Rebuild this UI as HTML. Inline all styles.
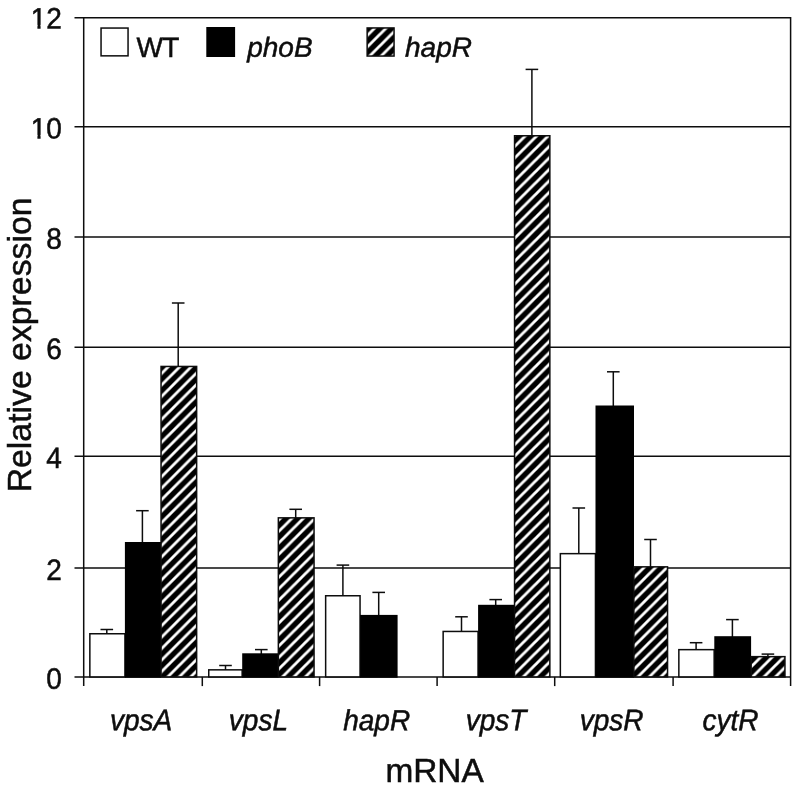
<!DOCTYPE html>
<html lang="en"><head><meta charset="utf-8"><title>Relative expression</title>
<style>html,body{margin:0;padding:0;background:#fff}body{width:800px;height:791px;overflow:hidden}svg{display:block}text{font-family:"Liberation Sans",sans-serif;fill:#0d0d0d}</style></head><body>
<svg width="800" height="791" viewBox="0 0 800 791">
<defs><pattern id="h" x="7.70" y="0" width="11.465" height="11.465" patternUnits="userSpaceOnUse"><rect width="11.465" height="11.465" fill="#000"/><path d="M-2.87 2.87L2.87 -2.87M-2.87 14.33L14.33 -2.87M8.60 14.33L14.33 8.60" stroke="#fff" stroke-width="2.8"/></pattern><pattern id="hL" x="1.50" y="0" width="11.465" height="11.465" patternUnits="userSpaceOnUse"><rect width="11.465" height="11.465" fill="#000"/><path d="M-2.87 2.87L2.87 -2.87M-2.87 14.33L14.33 -2.87M8.60 14.33L14.33 8.60" stroke="#fff" stroke-width="2.8"/></pattern></defs>
<rect width="800" height="791" fill="#fff"/>
<line x1="74.5" y1="17.8" x2="790.6" y2="17.8" stroke="#0d0d0d" stroke-width="1.5"/>
<line x1="74.5" y1="126.7" x2="790.6" y2="126.7" stroke="#0d0d0d" stroke-width="1.5"/>
<line x1="74.5" y1="236.9" x2="790.6" y2="236.9" stroke="#0d0d0d" stroke-width="1.5"/>
<line x1="74.5" y1="347.3" x2="790.6" y2="347.3" stroke="#0d0d0d" stroke-width="1.5"/>
<line x1="74.5" y1="456.2" x2="790.6" y2="456.2" stroke="#0d0d0d" stroke-width="1.5"/>
<line x1="74.5" y1="568.1" x2="790.6" y2="568.1" stroke="#0d0d0d" stroke-width="1.5"/>
<line x1="74.5" y1="676.9" x2="790.6" y2="676.9" stroke="#0d0d0d" stroke-width="1.5"/>
<line x1="83.7" y1="16.9" x2="83.7" y2="686.1" stroke="#0d0d0d" stroke-width="1.5"/>
<line x1="790.6" y1="16.9" x2="790.6" y2="686.1" stroke="#0d0d0d" stroke-width="1.5"/>
<line x1="202.3" y1="676.9" x2="202.3" y2="686.1" stroke="#0d0d0d" stroke-width="1.5"/>
<line x1="319.6" y1="676.9" x2="319.6" y2="686.1" stroke="#0d0d0d" stroke-width="1.5"/>
<line x1="437.1" y1="676.9" x2="437.1" y2="686.1" stroke="#0d0d0d" stroke-width="1.5"/>
<line x1="554.7" y1="676.9" x2="554.7" y2="686.1" stroke="#0d0d0d" stroke-width="1.5"/>
<line x1="673.1" y1="676.9" x2="673.1" y2="686.1" stroke="#0d0d0d" stroke-width="1.5"/>
<line x1="106.8" y1="629.5" x2="106.8" y2="633.9" stroke="#0d0d0d" stroke-width="1.5"/>
<line x1="100.5" y1="629.5" x2="113.1" y2="629.5" stroke="#0d0d0d" stroke-width="1.5"/>
<rect x="89.85" y="633.75" width="35.10" height="43.15" fill="#fff" stroke="#0d0d0d" stroke-width="1.5"/>
<line x1="142.4" y1="510.7" x2="142.4" y2="543.0" stroke="#0d0d0d" stroke-width="1.5"/>
<line x1="136.1" y1="510.7" x2="148.7" y2="510.7" stroke="#0d0d0d" stroke-width="1.5"/>
<rect x="125.75" y="542.85" width="34.40" height="134.05" fill="#000" stroke="#000" stroke-width="1.7"/>
<line x1="178.2" y1="303.0" x2="178.2" y2="366.6" stroke="#0d0d0d" stroke-width="1.5"/>
<line x1="171.9" y1="303.0" x2="184.5" y2="303.0" stroke="#0d0d0d" stroke-width="1.5"/>
<rect x="161.05" y="366.45" width="35.60" height="310.45" fill="url(#h)" stroke="#0d0d0d" stroke-width="1.5"/>
<line x1="225.5" y1="665.5" x2="225.5" y2="670.0" stroke="#0d0d0d" stroke-width="1.5"/>
<line x1="219.2" y1="665.5" x2="231.8" y2="665.5" stroke="#0d0d0d" stroke-width="1.5"/>
<rect x="208.75" y="669.85" width="33.40" height="7.05" fill="#fff" stroke="#0d0d0d" stroke-width="1.5"/>
<line x1="261.3" y1="649.6" x2="261.3" y2="654.3" stroke="#0d0d0d" stroke-width="1.5"/>
<line x1="255.0" y1="649.6" x2="267.6" y2="649.6" stroke="#0d0d0d" stroke-width="1.5"/>
<rect x="243.05" y="654.15" width="34.70" height="22.75" fill="#000" stroke="#000" stroke-width="1.7"/>
<line x1="295.7" y1="509.3" x2="295.7" y2="518.0" stroke="#0d0d0d" stroke-width="1.5"/>
<line x1="289.4" y1="509.3" x2="302.0" y2="509.3" stroke="#0d0d0d" stroke-width="1.5"/>
<rect x="278.35" y="517.85" width="35.70" height="159.05" fill="url(#h)" stroke="#0d0d0d" stroke-width="1.5"/>
<line x1="342.9" y1="565.1" x2="342.9" y2="595.9" stroke="#0d0d0d" stroke-width="1.5"/>
<line x1="336.6" y1="565.1" x2="349.2" y2="565.1" stroke="#0d0d0d" stroke-width="1.5"/>
<rect x="325.65" y="595.75" width="34.40" height="81.15" fill="#fff" stroke="#0d0d0d" stroke-width="1.5"/>
<line x1="378.7" y1="592.4" x2="378.7" y2="615.9" stroke="#0d0d0d" stroke-width="1.5"/>
<line x1="372.4" y1="592.4" x2="385.0" y2="592.4" stroke="#0d0d0d" stroke-width="1.5"/>
<rect x="360.95" y="615.75" width="35.80" height="61.15" fill="#000" stroke="#000" stroke-width="1.7"/>
<line x1="461.5" y1="616.8" x2="461.5" y2="631.6" stroke="#0d0d0d" stroke-width="1.5"/>
<line x1="455.2" y1="616.8" x2="467.8" y2="616.8" stroke="#0d0d0d" stroke-width="1.5"/>
<rect x="443.15" y="631.45" width="34.90" height="45.45" fill="#fff" stroke="#0d0d0d" stroke-width="1.5"/>
<line x1="495.7" y1="599.6" x2="495.7" y2="605.8" stroke="#0d0d0d" stroke-width="1.5"/>
<line x1="489.4" y1="599.6" x2="502.0" y2="599.6" stroke="#0d0d0d" stroke-width="1.5"/>
<rect x="478.95" y="605.65" width="34.80" height="71.25" fill="#000" stroke="#000" stroke-width="1.7"/>
<line x1="531.9" y1="69.4" x2="531.9" y2="135.9" stroke="#0d0d0d" stroke-width="1.5"/>
<line x1="525.6" y1="69.4" x2="538.2" y2="69.4" stroke="#0d0d0d" stroke-width="1.5"/>
<rect x="514.55" y="135.75" width="35.30" height="541.15" fill="url(#h)" stroke="#0d0d0d" stroke-width="1.5"/>
<line x1="578.8" y1="508.0" x2="578.8" y2="553.8" stroke="#0d0d0d" stroke-width="1.5"/>
<line x1="572.5" y1="508.0" x2="585.1" y2="508.0" stroke="#0d0d0d" stroke-width="1.5"/>
<rect x="560.35" y="553.65" width="35.10" height="123.25" fill="#fff" stroke="#0d0d0d" stroke-width="1.5"/>
<line x1="613.3" y1="371.8" x2="613.3" y2="406.5" stroke="#0d0d0d" stroke-width="1.5"/>
<line x1="607.0" y1="371.8" x2="619.6" y2="371.8" stroke="#0d0d0d" stroke-width="1.5"/>
<rect x="596.35" y="406.35" width="36.80" height="270.55" fill="#000" stroke="#000" stroke-width="1.7"/>
<line x1="650.5" y1="539.5" x2="650.5" y2="567.0" stroke="#0d0d0d" stroke-width="1.5"/>
<line x1="644.2" y1="539.5" x2="656.8" y2="539.5" stroke="#0d0d0d" stroke-width="1.5"/>
<rect x="633.85" y="566.85" width="33.70" height="110.05" fill="url(#h)" stroke="#0d0d0d" stroke-width="1.5"/>
<line x1="696.1" y1="642.7" x2="696.1" y2="649.8" stroke="#0d0d0d" stroke-width="1.5"/>
<line x1="689.8" y1="642.7" x2="702.4" y2="642.7" stroke="#0d0d0d" stroke-width="1.5"/>
<rect x="678.85" y="649.65" width="35.30" height="27.25" fill="#fff" stroke="#0d0d0d" stroke-width="1.5"/>
<line x1="732.4" y1="619.6" x2="732.4" y2="637.2" stroke="#0d0d0d" stroke-width="1.5"/>
<line x1="726.1" y1="619.6" x2="738.7" y2="619.6" stroke="#0d0d0d" stroke-width="1.5"/>
<rect x="715.15" y="637.05" width="35.10" height="39.85" fill="#000" stroke="#000" stroke-width="1.7"/>
<line x1="767.9" y1="654.1" x2="767.9" y2="656.8" stroke="#0d0d0d" stroke-width="1.5"/>
<line x1="761.6" y1="654.1" x2="774.2" y2="654.1" stroke="#0d0d0d" stroke-width="1.5"/>
<rect x="751.15" y="656.65" width="33.80" height="20.25" fill="url(#h)" stroke="#0d0d0d" stroke-width="1.5"/>
<text transform="translate(61.8 28.5) rotate(0.03) scale(1.0 1.055)" font-size="28" text-anchor="end" stroke="#0d0d0d" stroke-width="0.5">12</text>
<text transform="translate(61.8 138.5) rotate(0.03) scale(1.0 1.055)" font-size="28" text-anchor="end" stroke="#0d0d0d" stroke-width="0.5">10</text>
<text transform="translate(61.8 248.7) rotate(0.03) scale(1.0 1.055)" font-size="28" text-anchor="end" stroke="#0d0d0d" stroke-width="0.5">8</text>
<text transform="translate(61.8 359.0) rotate(0.03) scale(1.0 1.055)" font-size="28" text-anchor="end" stroke="#0d0d0d" stroke-width="0.5">6</text>
<text transform="translate(61.8 468.0) rotate(0.03) scale(1.0 1.055)" font-size="28" text-anchor="end" stroke="#0d0d0d" stroke-width="0.5">4</text>
<text transform="translate(61.8 579.9) rotate(0.03) scale(1.0 1.055)" font-size="28" text-anchor="end" stroke="#0d0d0d" stroke-width="0.5">2</text>
<text transform="translate(61.8 688.7) rotate(0.03) scale(1.0 1.055)" font-size="28" text-anchor="end" stroke="#0d0d0d" stroke-width="0.5">0</text>
<rect x="30.5" y="24.9" width="6.9" height="5.6" fill="#fff"/>
<rect x="40.6" y="24.9" width="6" height="5.6" fill="#fff"/>
<rect x="30.5" y="134.9" width="6.9" height="5.6" fill="#fff"/>
<rect x="40.6" y="134.9" width="6" height="5.6" fill="#fff"/>
<text transform="translate(141.0 730.3) rotate(0.03) scale(1 1.07)" font-size="28" text-anchor="middle" font-style="italic" stroke="#0d0d0d" stroke-width="0.5">vpsA</text>
<text transform="translate(258.4 730.3) rotate(0.03) scale(1 1.07)" font-size="28" text-anchor="middle" font-style="italic" stroke="#0d0d0d" stroke-width="0.5">vpsL</text>
<text transform="translate(376.7 730.3) rotate(0.03) scale(1 1.04)" font-size="28" text-anchor="middle" font-style="italic" stroke="#0d0d0d" stroke-width="0.5">hapR</text>
<text transform="translate(496.1 730.3) rotate(0.03) scale(1 1.07)" font-size="28" text-anchor="middle" font-style="italic" stroke="#0d0d0d" stroke-width="0.5">vpsT</text>
<text transform="translate(611.6 730.3) rotate(0.03) scale(1 1.07)" font-size="28" text-anchor="middle" font-style="italic" stroke="#0d0d0d" stroke-width="0.5">vpsR</text>
<text transform="translate(730.4 730.3) rotate(0.03) scale(1 1.07)" font-size="28" text-anchor="middle" font-style="italic" stroke="#0d0d0d" stroke-width="0.5">cytR</text>
<text transform="translate(434.6 782.0) rotate(0.03) scale(1 1.0)" font-size="33.4" text-anchor="middle" stroke="#0d0d0d" stroke-width="0.5">mRNA</text>
<text transform="translate(30.7 344.9) rotate(-90)" font-size="33.8" text-anchor="middle" stroke="#0d0d0d" stroke-width="0.5">Relative expression</text>
<rect x="101.05" y="28.05" width="27.00" height="27.80" fill="#fff" stroke="#0d0d0d" stroke-width="1.5"/>
<text transform="translate(136.4 57.0) rotate(0.03) scale(1 1.0)" font-size="28" text-anchor="start" stroke="#0d0d0d" stroke-width="0.5" textLength="43" lengthAdjust="spacing">WT</text>
<rect x="206.3" y="27" width="28.8" height="30" fill="#000"/>
<text transform="translate(247.2 56.8) rotate(0.03) scale(1 0.99)" font-size="28" text-anchor="start" font-style="italic" stroke="#0d0d0d" stroke-width="0.5">phoB</text>
<rect x="367.15" y="27.95" width="26.90" height="28.10" fill="url(#hL)" stroke="#0d0d0d" stroke-width="1.5"/>
<text transform="translate(405.0 56.8) rotate(0.03) scale(1 0.99)" font-size="28" text-anchor="start" font-style="italic" stroke="#0d0d0d" stroke-width="0.5">hapR</text>
</svg></body></html>
